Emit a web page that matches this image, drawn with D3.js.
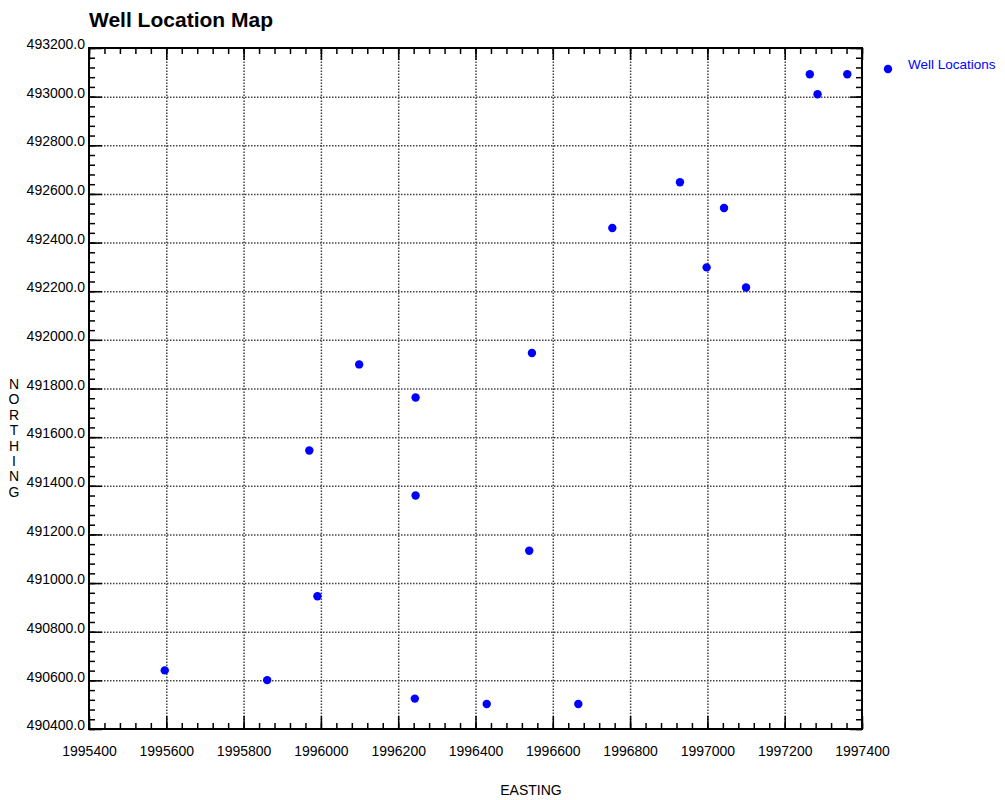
<!DOCTYPE html>
<html>
<head>
<meta charset="utf-8">
<script src="https://cdn.jsdelivr.net/npm/d3@7"></script>
<style>
  body { margin: 0; background: #fff; }
  svg { display: block; }
  text { font-family: "Liberation Sans", Arial, sans-serif; }
</style>
</head>
<body>
<svg id="chart" width="1005" height="800"></svg>
<script>
// ---- data ----
const eastings = [1995596, 1995861, 1995991, 1995970, 1996099, 1996245, 1996245, 1996243,
                  1996429, 1996666, 1996539, 1996546, 1996754, 1996929, 1996998, 1997043,
                  1997100, 1997265, 1997285, 1997362];
const northings = [490641, 490601, 490946, 491545, 491899, 491763, 491360, 490525,
                   490503, 490503, 491133, 491946, 492460, 492648, 492298, 492542,
                   492215, 493092, 493010, 493092];
const xTicks = [1995400, 1995600, 1995800, 1996000, 1996200, 1996400, 1996600, 1996800, 1997000, 1997200, 1997400];
const yTicks = [490400, 490600, 490800, 491000, 491200, 491400, 491600, 491800, 492000, 492200, 492400, 492600, 492800, 493000, 493200];
const seriesName = "Well Locations";
const titleText = "Well Location Map";
const xTitle = "EASTING";
const yTitle = "NORTHING";

// ---- layout ----
const L = 89, R = 862, T = 48, B = 729;
const svg = d3.select("#chart");
const x = d3.scaleLinear().domain([1995400, 1997400]).range([L, R]);
const y = d3.scaleLinear().domain([490400, 493200]).range([B, T]);
const xMinor = d3.range(1995400, 1997400 + 1, 40);
const yMinor = d3.range(490400, 493200 + 1, 40);

// gridlines
const grid = svg.append("g").attr("class", "grid");
grid.append("g").attr("transform", `translate(0,${B})`)
  .call(d3.axisBottom(x).tickValues(xTicks.slice(1, -1)).tickSize(-(B - T)).tickFormat(""));
grid.append("g").attr("transform", `translate(${L},0)`)
  .call(d3.axisLeft(y).tickValues(yTicks.slice(1, -1)).tickSize(-(R - L)).tickFormat(""));
grid.selectAll(".domain").remove();
grid.selectAll("line").attr("stroke", "#444").attr("stroke-width", 1.5).attr("stroke-dasharray", "1.5,1.5");

// minor ticks (inward) on all four sides
function minorAxis(axis, tr) {
  const g = svg.append("g").attr("transform", tr).call(axis);
  g.select(".domain").remove();
  g.selectAll("line").attr("stroke", "#000").attr("stroke-width", 1.5);
  return g;
}
minorAxis(d3.axisBottom(x).tickValues(xMinor).tickSize(-6).tickFormat(""), `translate(0,${B})`);
minorAxis(d3.axisTop(x).tickValues(xMinor).tickSize(-6).tickFormat(""), `translate(0,${T})`);
minorAxis(d3.axisLeft(y).tickValues(yMinor).tickSize(-6).tickFormat(""), `translate(${L},0)`);
minorAxis(d3.axisRight(y).tickValues(yMinor).tickSize(-6).tickFormat(""), `translate(${R},0)`);
minorAxis(d3.axisTop(x).tickValues(xTicks).tickSize(-12).tickFormat(""), `translate(0,${T})`);
minorAxis(d3.axisRight(y).tickValues(yTicks).tickSize(-12).tickFormat(""), `translate(${R},0)`);

// major axes with labels
const xAxisG = svg.append("g").attr("transform", `translate(0,${B})`)
  .call(d3.axisBottom(x).tickValues(xTicks).tickSize(-13).tickPadding(17).tickFormat(d3.format("d")));
const yAxisG = svg.append("g").attr("transform", `translate(${L},0)`)
  .call(d3.axisLeft(y).tickValues(yTicks).tickSize(-13).tickPadding(4).tickFormat(d3.format(".1f")));
[xAxisG, yAxisG].forEach(g => {
  g.select(".domain").remove();
  g.selectAll("line").attr("stroke", "#000").attr("stroke-width", 1.5);
  g.selectAll("text").attr("fill", "#000").style("font-size", "14px")
    .style("font-family", "'Liberation Sans', Arial, sans-serif");
});
yAxisG.selectAll("text").attr("dy", "0.05em");

// frame
svg.append("rect").attr("x", L).attr("y", T).attr("width", R - L).attr("height", B - T)
  .attr("fill", "none").attr("stroke", "#000").attr("stroke-width", 2);

// points
svg.append("g").selectAll("circle")
  .data(eastings.map((e, i) => ({ e, n: northings[i] })))
  .join("circle")
  .attr("cx", d => x(d.e)).attr("cy", d => y(d.n)).attr("r", 4.2).attr("fill", "#0000ff");

// title
svg.append("text").attr("x", 89).attr("y", 27).text(titleText)
  .style("font-size", "21px").style("font-weight", "bold").attr("fill", "#000");

// axis titles
svg.append("text").attr("x", 531).attr("y", 795).attr("text-anchor", "middle")
  .style("font-size", "14px").attr("fill", "#000").text(xTitle);
svg.append("g").selectAll("text").data(yTitle.split(""))
  .join("text").attr("x", 14).attr("y", (d, i) => 389 + i * 15.4).attr("text-anchor", "middle")
  .style("font-size", "14px").attr("fill", "#000").text(d => d);

// legend
svg.append("circle").attr("cx", 888).attr("cy", 69).attr("r", 4.2).attr("fill", "#0000ff");
svg.append("text").attr("x", 908).attr("y", 69).text(seriesName)
  .style("font-size", "13.5px").attr("fill", "#0000ff");
</script>
</body>
</html>
